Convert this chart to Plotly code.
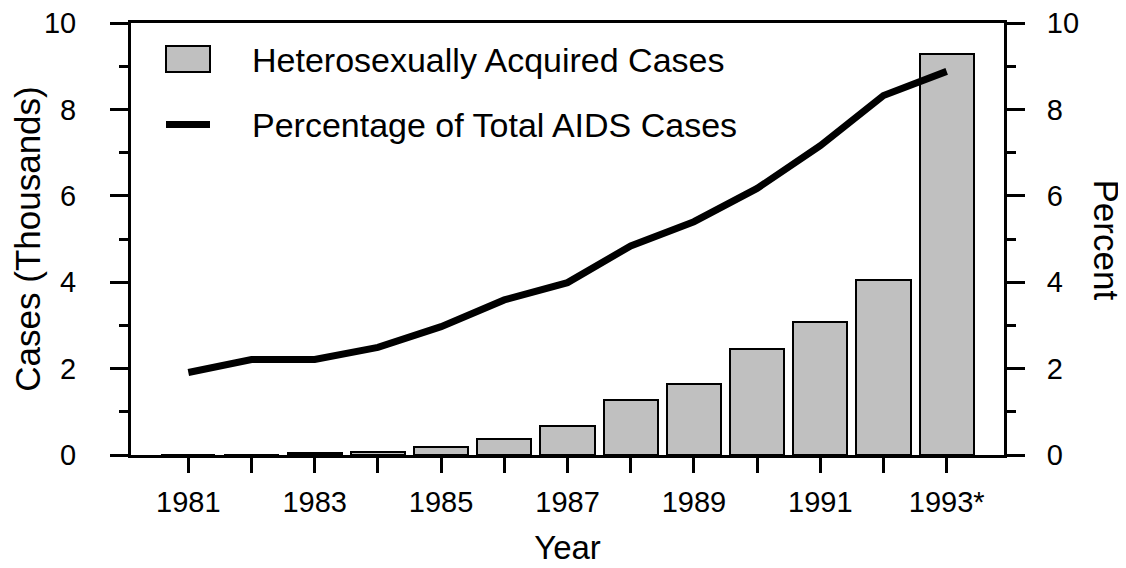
import plotly.graph_objects as go

years = [1981, 1982, 1983, 1984, 1985, 1986, 1987, 1988, 1989, 1990, 1991, 1992, 1993]
year_labels = ["1981", "", "1983", "", "1985", "", "1987", "", "1989", "", "1991", "", "1993*"]
cases_thousands = [0, 0.01, 0.05, 0.08, 0.18, 0.36, 0.66, 1.27, 1.64, 2.45, 3.08, 4.04, 9.28]
percent_total = [1.91, 2.21, 2.21, 2.49, 2.97, 3.59, 3.99, 4.84, 5.40, 6.17, 7.16, 8.32, 8.88]
bar_name = "Heterosexually Acquired Cases"
line_name = "Percentage of Total AIDS Cases"

FONT = "Liberation Sans, Arial, Helvetica, sans-serif"
OFF = 8  # the page body adds an 8px margin around the figure
W, H = 1126 - OFF, 568 - OFF
# plot area in page pixels: x 131..1004, y 23..455
L, T = 131 - OFF, 23 - OFF
pw, ph = 1004 - 131, 455 - 23
R, B = W - L - pw, H - T - ph

fig = go.Figure()
fig.add_trace(go.Bar(
    x=years, y=cases_thousands, name=bar_name, width=0.86,
    marker=dict(color="#c0c0c0", line=dict(color="black", width=2)),
    showlegend=False,
))
fig.add_trace(go.Scatter(
    x=years, y=percent_total, name=line_name, yaxis="y2", mode="lines",
    line=dict(color="black", width=7), showlegend=False,
))

axis_common = dict(
    showline=True, linecolor="black", linewidth=3,
    ticks="outside", ticklen=18, tickwidth=3, tickcolor="black",
    showgrid=False, zeroline=False, automargin=False,
    ticklabeloverflow="allow",
    tickfont=dict(family=FONT, size=29, color="black"),
)

fig.update_layout(
    width=W, height=H, autosize=False,
    margin=dict(l=L, r=R, t=T, b=B, pad=0),
    paper_bgcolor="white", plot_bgcolor="white",
    font=dict(family=FONT, color="black"),
    bargap=0,
    xaxis=dict(
        range=[1980.093, 1993.907], tickvals=years, ticktext=year_labels,
        showline=True, linecolor="black", linewidth=3, mirror=True,
        ticks="outside", ticklen=15, tickwidth=3, tickcolor="black",
        showgrid=False, zeroline=False, automargin=False,
        tickfont=dict(family=FONT, size=29, color="black"),
        ticklabelstandoff=4,
        title=dict(text="Year", font=dict(family=FONT, size=33, color="black"), standoff=20),
    ),
    yaxis=dict(
        range=[0, 10], tickvals=[0, 2, 4, 6, 8, 10],
        minor=dict(tickvals=[1, 3, 5, 7, 9], ticks="outside", ticklen=9, tickwidth=3, tickcolor="black"),
        ticklabelstandoff=28,
        title=dict(text="Cases (Thousands)", font=dict(family=FONT, size=35, color="black"), standoff=10),
        **axis_common,
    ),
    yaxis2=dict(
        range=[0, 10], tickvals=[0, 2, 4, 6, 8, 10], overlaying="y", side="right",
        minor=dict(tickvals=[1, 3, 5, 7, 9], ticks="outside", ticklen=9, tickwidth=3, tickcolor="black"),
        ticklabelstandoff=16,
        **axis_common,
    ),
)

def px_x(px):
    return (px - OFF - L) / pw

def px_y(py):
    return (T + ph - (py - OFF)) / ph

# right-side title, reading top to bottom
fig.add_annotation(text="Percent", xref="paper", yref="paper", x=px_x(1106.5), y=px_y(240),
                   xanchor="center", yanchor="middle",
                   textangle=90, showarrow=False, font=dict(family=FONT, size=35, color="black"))

# legend drawn inside the plot
fig.add_shape(type="rect", xref="paper", yref="paper", x0=px_x(166), x1=px_x(210),
              y0=px_y(72), y1=px_y(46), fillcolor="#c0c0c0", line=dict(color="black", width=2))
fig.add_shape(type="line", xref="paper", yref="paper", x0=px_x(166), x1=px_x(210),
              y0=px_y(124.5), y1=px_y(124.5), line=dict(color="black", width=7))
fig.add_annotation(text=bar_name, xref="paper", yref="paper", x=px_x(250), y=px_y(60),
                   xanchor="left", yanchor="middle", showarrow=False,
                   font=dict(family=FONT, size=34, color="black"))
fig.add_annotation(text=line_name, xref="paper", yref="paper", x=px_x(250), y=px_y(125),
                   xanchor="left", yanchor="middle", showarrow=False,
                   font=dict(family=FONT, size=34, color="black"))

fig.write_html("out.html")
